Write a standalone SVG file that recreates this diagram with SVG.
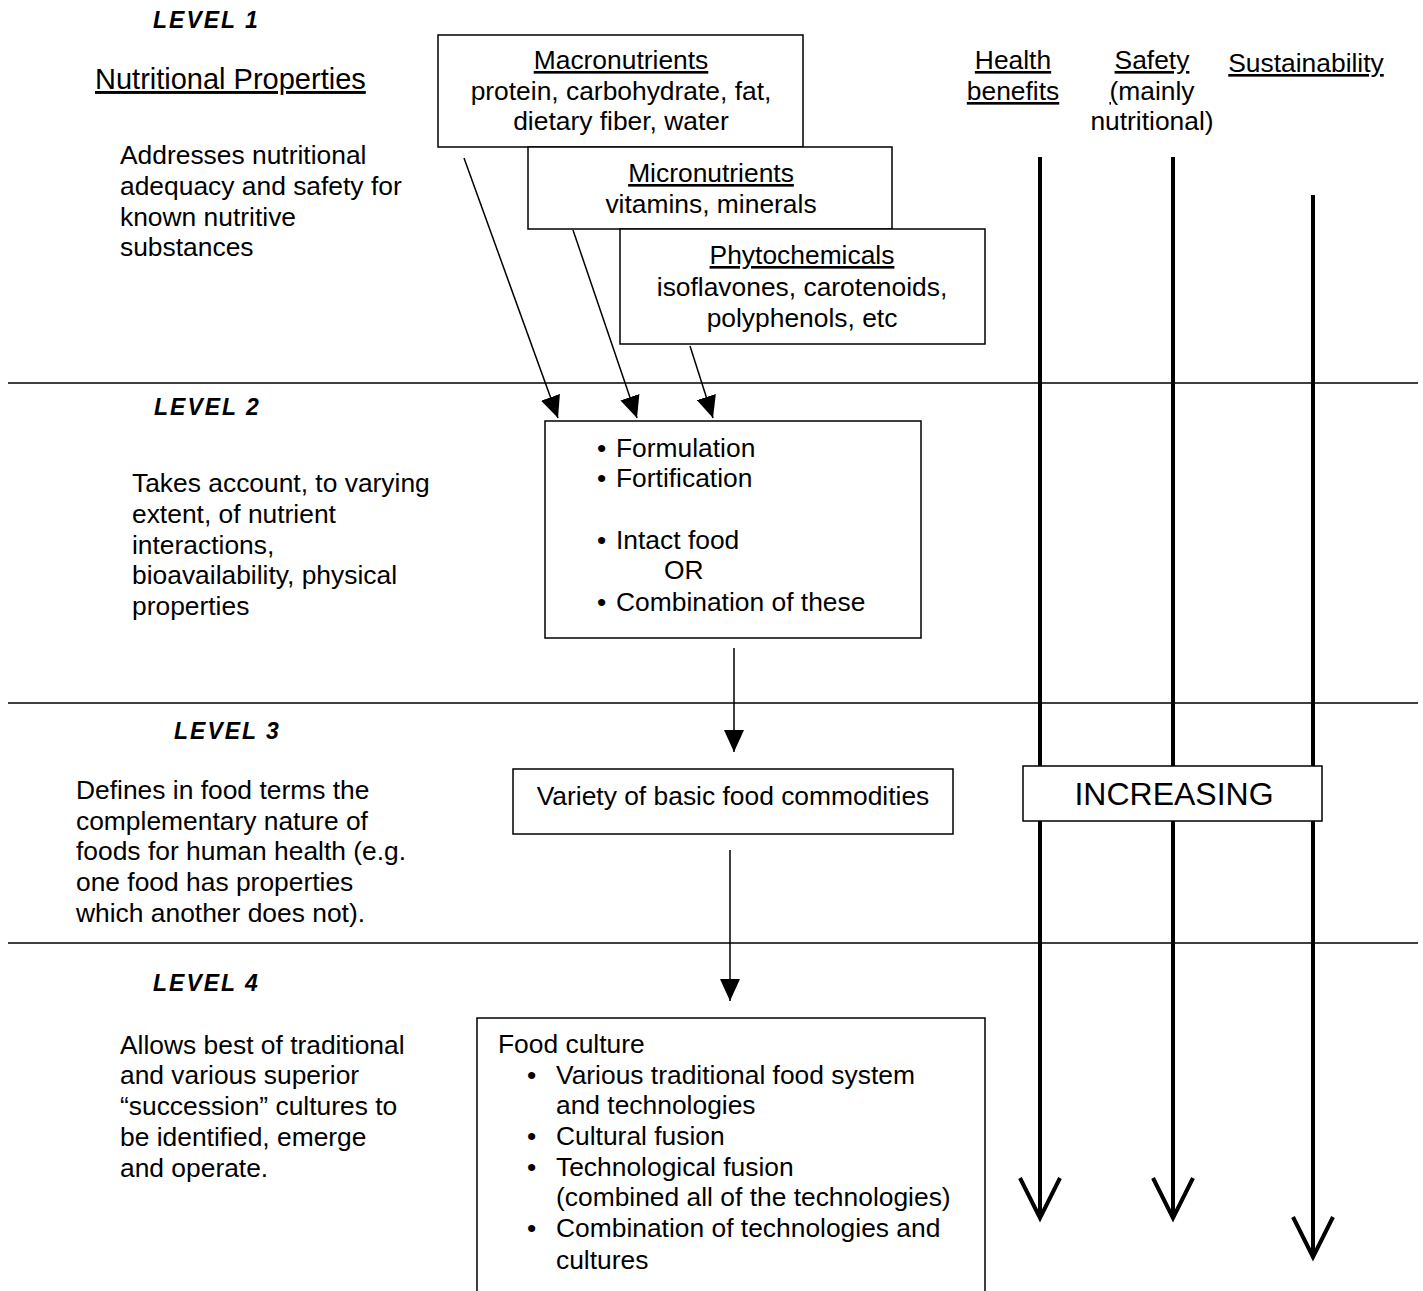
<svg xmlns="http://www.w3.org/2000/svg" width="1423" height="1291" viewBox="0 0 1423 1291">
<style>
text{font-family:"Liberation Sans",Arial,sans-serif;font-size:26.4px;fill:#000}
.lvl{font-weight:bold;font-style:italic;font-size:23px;letter-spacing:2px}
.u{text-decoration:underline}
.c{text-anchor:middle}
.box{fill:#fff;stroke:#000;stroke-width:1.5}
.sep{stroke:#000;stroke-width:1.5}
.ln{stroke:#000;stroke-width:1.5;fill:none}
.big{stroke:#000;stroke-width:4;fill:none}
</style>
<defs>
<marker id="ah" markerWidth="22" markerHeight="20" refX="22" refY="10" orient="auto" markerUnits="userSpaceOnUse">
<path d="M0,0 L22,10 L0,20 Z" fill="#000"/>
</marker>
</defs>
<g id="separators">
<line class="sep" x1="8" y1="383" x2="1418" y2="383"/>
<line class="sep" x1="8" y1="703" x2="1418" y2="703"/>
<line class="sep" x1="8" y1="943" x2="1418" y2="943"/>
</g>
<g id="level1-text">
<text class="lvl" x="153" y="28">LEVEL 1</text>
<text class="u" x="95" y="89" style="font-size:29px">Nutritional Properties</text>
<text x="120" y="164">Addresses nutritional</text>
<text x="120" y="195">adequacy and safety for</text>
<text x="120" y="226">known nutritive</text>
<text x="120" y="256">substances</text>
</g>
<g id="level2-text">
<text class="lvl" x="154" y="415">LEVEL 2</text>
<text x="132" y="492">Takes account, to varying</text>
<text x="132" y="523">extent, of nutrient</text>
<text x="132" y="554">interactions,</text>
<text x="132" y="584">bioavailability, physical</text>
<text x="132" y="615">properties</text>
</g>
<g id="level3-text">
<text class="lvl" x="174" y="739">LEVEL 3</text>
<text x="76" y="799">Defines in food terms the</text>
<text x="76" y="830">complementary nature of</text>
<text x="76" y="860">foods for human health (e.g.</text>
<text x="76" y="891">one food has properties</text>
<text x="76" y="922">which another does not).</text>
</g>
<g id="level4-text">
<text class="lvl" x="153" y="991">LEVEL 4</text>
<text x="120" y="1054">Allows best of traditional</text>
<text x="120" y="1084">and various superior</text>
<text x="120" y="1115">“succession” cultures to</text>
<text x="120" y="1146">be identified, emerge</text>
<text x="120" y="1177">and operate.</text>
</g>
<g id="headers">
<text class="c u" x="1013" y="69">Health</text>
<text class="c u" x="1013" y="100">benefits</text>
<text class="c u" x="1152" y="69">Safety</text>
<text class="c" x="1152" y="100"><tspan class="u">(</tspan>mainly</text>
<text class="c" x="1152" y="130">nutritional)</text>
<text class="c u" x="1306" y="72">Sustainability</text>
</g>
<g id="connectors">
<line class="ln" x1="464" y1="158" x2="558" y2="418" marker-end="url(#ah)"/>
<line class="ln" x1="573" y1="230" x2="637" y2="418" marker-end="url(#ah)"/>
<line class="ln" x1="690" y1="346" x2="713" y2="418" marker-end="url(#ah)"/>
<line class="ln" x1="734" y1="648" x2="734" y2="752" marker-end="url(#ah)"/>
<line class="ln" x1="730" y1="850" x2="730" y2="1001" marker-end="url(#ah)"/>
<path class="big" d="M1040,157 V1216 M1020,1178 L1040,1218 L1060,1178"/>
<path class="big" d="M1173,157 V1216 M1153,1178 L1173,1218 L1193,1178"/>
<path class="big" d="M1313,195 V1255 M1293,1217 L1313,1257 L1333,1217"/>
</g>
<g id="macro">
<rect class="box" x="438" y="35" width="365" height="112"/>
<text class="c u" x="621" y="69">Macronutrients</text>
<text class="c" x="621" y="100">protein, carbohydrate, fat,</text>
<text class="c" x="621" y="130">dietary fiber, water</text>
</g>
<g id="micro">
<rect class="box" x="528" y="147" width="364" height="82"/>
<text class="c u" x="711" y="182">Micronutrients</text>
<text class="c" x="711" y="213">vitamins, minerals</text>
</g>
<g id="phyto">
<rect class="box" x="620" y="229" width="365" height="115"/>
<text class="c u" x="802" y="264">Phytochemicals</text>
<text class="c" x="802" y="296">isoflavones, carotenoids,</text>
<text class="c" x="802" y="327">polyphenols, etc</text>
</g>
<g id="level2-box">
<rect class="box" x="545" y="421" width="376" height="217"/>
<text x="597" y="457">•</text><text x="616" y="457">Formulation</text>
<text x="597" y="487">•</text><text x="616" y="487">Fortification</text>
<text x="597" y="549">•</text><text x="616" y="549">Intact food</text>
<text x="664" y="579">OR</text>
<text x="597" y="611">•</text><text x="616" y="611">Combination of these</text>
</g>
<g id="level3-box">
<rect class="box" x="513" y="769" width="440" height="65"/>
<text class="c" x="733" y="805">Variety of basic food commodities</text>
</g>
<g id="level4-box">
<path class="ln" d="M477,1295 V1018 H985 V1295"/>
<text x="498" y="1053">Food culture</text>
<text x="527" y="1084">•</text><text x="556" y="1084">Various traditional food system</text>
<text x="556" y="1114">and technologies</text>
<text x="527" y="1145">•</text><text x="556" y="1145">Cultural fusion</text>
<text x="527" y="1176">•</text><text x="556" y="1176">Technological  fusion</text>
<text x="556" y="1206">(combined all of the technologies)</text>
<text x="527" y="1237">•</text><text x="556" y="1237">Combination of technologies and</text>
<text x="556" y="1269">cultures</text>
</g>
<g id="increasing">
<rect class="box" x="1023" y="766" width="299" height="55"/>
<text class="c" x="1174" y="805" style="font-size:32px">INCREASING</text>
</g>
</svg>
